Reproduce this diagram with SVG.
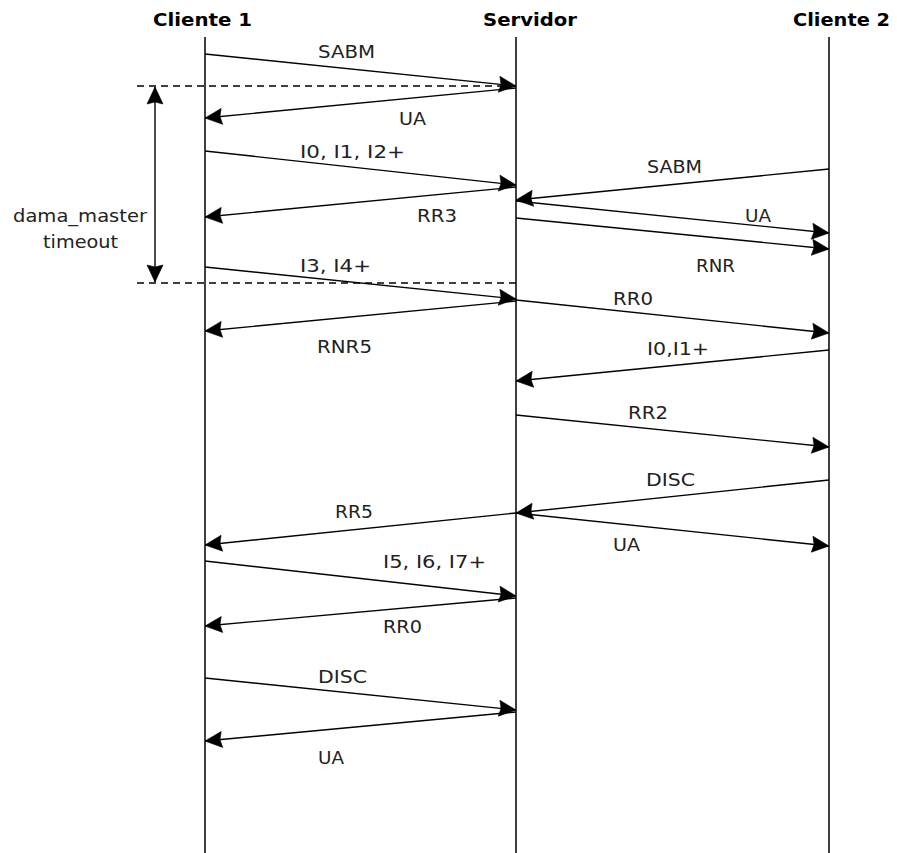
<svg xmlns="http://www.w3.org/2000/svg" width="897" height="853" viewBox="0 0 897 853">
  <style>
    .life { stroke: #000; stroke-width: 1.5; fill: none; }
    .title { font-family: "DejaVu Sans", Verdana, sans-serif; font-weight: bold; font-size: 17px; fill: #000; }
    .msg { stroke: #000; stroke-width: 1.4; fill: none; marker-end: url(#arr); }
    .lbl { font-family: "DejaVu Sans", Verdana, sans-serif; font-size: 18.5px; fill: #222; }
    .dash { stroke: #000; stroke-width: 1.4; stroke-dasharray: 7 5; fill: none; }
  </style>
  <defs>
    <marker id="arr" markerUnits="userSpaceOnUse" viewBox="0 0 17 16" markerWidth="17" markerHeight="16" refX="17" refY="8" orient="auto" overflow="visible">
      <path d="M0,0 L17,8 L0,16 L2,8 z" fill="#000" stroke="#000" stroke-width="0.6" stroke-linejoin="miter"/>
    </marker>
    <marker id="arrs" markerUnits="userSpaceOnUse" viewBox="0 0 17 16" markerWidth="17" markerHeight="16" refX="17" refY="8" orient="auto-start-reverse" overflow="visible">
      <path d="M0,0 L17,8 L0,16 L2,8 z" fill="#000" stroke="#000" stroke-width="0.6" stroke-linejoin="miter"/>
    </marker>
  </defs>
  <rect width="897" height="853" fill="#fff"/>

  <g id="cliente1">
    <text class="title" x="153" y="26" textLength="99" lengthAdjust="spacingAndGlyphs">Cliente 1</text>
    <line class="life" x1="205" y1="37" x2="205" y2="853"/>
  </g>
  <g id="servidor">
    <text class="title" x="483" y="26" textLength="94" lengthAdjust="spacingAndGlyphs">Servidor</text>
    <line class="life" x1="516" y1="37" x2="516" y2="853"/>
  </g>
  <g id="cliente2">
    <text class="title" x="793" y="26" textLength="97" lengthAdjust="spacingAndGlyphs">Cliente 2</text>
    <line class="life" x1="829" y1="37" x2="829" y2="853"/>
  </g>

  <g id="timeout">
    <line class="dash" x1="137" y1="86" x2="516" y2="86"/>
    <line class="dash" x1="137" y1="283" x2="516" y2="283"/>
    <line x1="155" y1="87" x2="155" y2="282" stroke="#000" stroke-width="1.4" marker-start="url(#arrs)" marker-end="url(#arrs)"/>
    <text class="lbl" x="13" y="222" textLength="134" lengthAdjust="spacingAndGlyphs">dama_master</text>
    <text class="lbl" x="43" y="248" textLength="75" lengthAdjust="spacingAndGlyphs">timeout</text>
  </g>

  <g id="connectors">
    <g id="m1"><line class="msg" x1="205" y1="54" x2="516" y2="86"/><text class="lbl" x="318" y="58" textLength="57" lengthAdjust="spacingAndGlyphs">SABM</text></g>
    <g id="m2"><line class="msg" x1="516" y1="88" x2="205" y2="118"/><text class="lbl" x="399" y="125" textLength="27" lengthAdjust="spacingAndGlyphs">UA</text></g>
    <g id="m3"><line class="msg" x1="205" y1="151" x2="516" y2="185"/><text class="lbl" x="300" y="158" textLength="105" lengthAdjust="spacingAndGlyphs">I0, I1, I2+</text></g>
    <g id="m4"><line class="msg" x1="516" y1="187" x2="205" y2="217"/><text class="lbl" x="417" y="222" textLength="40" lengthAdjust="spacingAndGlyphs">RR3</text></g>
    <g id="m5"><line class="msg" x1="829" y1="169" x2="516" y2="200"/><text class="lbl" x="647" y="173" textLength="55" lengthAdjust="spacingAndGlyphs">SABM</text></g>
    <g id="m6"><line class="msg" x1="516" y1="201" x2="829" y2="233"/><text class="lbl" x="745" y="222" textLength="26" lengthAdjust="spacingAndGlyphs">UA</text></g>
    <g id="m7"><line class="msg" x1="516" y1="218" x2="829" y2="249"/><text class="lbl" x="696" y="272" textLength="39" lengthAdjust="spacingAndGlyphs">RNR</text></g>
    <g id="m8"><line class="msg" x1="205" y1="267" x2="516" y2="299"/><text class="lbl" x="300" y="272" textLength="71" lengthAdjust="spacingAndGlyphs">I3, I4+</text></g>
    <g id="m9"><line class="msg" x1="516" y1="301" x2="205" y2="331"/><text class="lbl" x="317" y="353" textLength="55" lengthAdjust="spacingAndGlyphs">RNR5</text></g>
    <g id="m10"><line class="msg" x1="516" y1="300" x2="829" y2="333"/><text class="lbl" x="613" y="305" textLength="40" lengthAdjust="spacingAndGlyphs">RR0</text></g>
    <g id="m11"><line class="msg" x1="829" y1="350" x2="516" y2="381"/><text class="lbl" x="647" y="355" textLength="62" lengthAdjust="spacingAndGlyphs">I0,I1+</text></g>
    <g id="m12"><line class="msg" x1="516" y1="415" x2="829" y2="447"/><text class="lbl" x="628" y="419" textLength="40" lengthAdjust="spacingAndGlyphs">RR2</text></g>
    <g id="m13"><line class="msg" x1="829" y1="480" x2="516" y2="513"/><text class="lbl" x="646" y="486" textLength="49" lengthAdjust="spacingAndGlyphs">DISC</text></g>
    <g id="m14"><line class="msg" x1="516" y1="513" x2="829" y2="546"/><text class="lbl" x="613" y="551" textLength="27" lengthAdjust="spacingAndGlyphs">UA</text></g>
    <g id="m15"><line class="msg" x1="516" y1="513" x2="205" y2="545"/><text class="lbl" x="335" y="518" textLength="38" lengthAdjust="spacingAndGlyphs">RR5</text></g>
    <g id="m16"><line class="msg" x1="205" y1="561" x2="516" y2="596"/><text class="lbl" x="383" y="568" textLength="103" lengthAdjust="spacingAndGlyphs">I5, I6, I7+</text></g>
    <g id="m17"><line class="msg" x1="516" y1="598" x2="205" y2="626"/><text class="lbl" x="383" y="633" textLength="39" lengthAdjust="spacingAndGlyphs">RR0</text></g>
    <g id="m18"><line class="msg" x1="205" y1="678" x2="516" y2="710"/><text class="lbl" x="318" y="683" textLength="49" lengthAdjust="spacingAndGlyphs">DISC</text></g>
    <g id="m19"><line class="msg" x1="516" y1="712" x2="205" y2="741"/><text class="lbl" x="318" y="764" textLength="26" lengthAdjust="spacingAndGlyphs">UA</text></g>
  </g>
</svg>
